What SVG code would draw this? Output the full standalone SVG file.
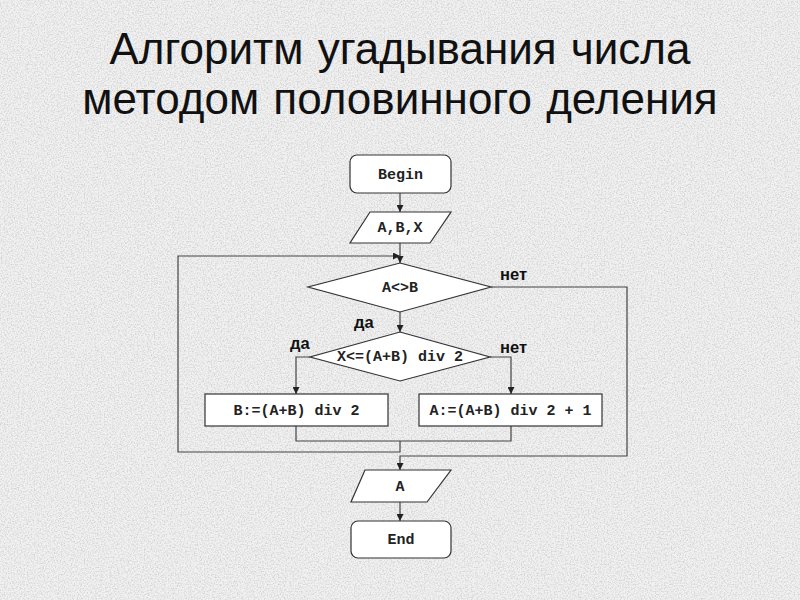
<svg xmlns="http://www.w3.org/2000/svg" width="800" height="600" viewBox="0 0 800 600">
<defs>
<filter id="noise" x="0" y="0" width="100%" height="100%">
<feTurbulence type="fractalNoise" baseFrequency="0.7" numOctaves="3" seed="5" result="t"/>
<feColorMatrix type="matrix" values="0 0 0 0 0.6  0 0 0 0 0.6  0 0 0 0 0.6  0 0 0 -3 1.75"/>
</filter>
<marker id="arr" viewBox="0 0 10 10" refX="10" refY="5" markerWidth="7" markerHeight="7" markerUnits="userSpaceOnUse" orient="auto">
<path d="M0,0 L10,5 L0,10 z" fill="#222"/>
</marker>
<style>
.shape{fill:#fff;stroke:#333;stroke-width:1.2}
.lbl{font-family:"Liberation Mono","Courier New",monospace;font-weight:bold;font-size:15px;fill:#222;text-anchor:middle}
.yn{font-family:"Liberation Sans",Arial,sans-serif;font-weight:bold;font-size:16.5px;fill:#111}
.title{font-family:"Liberation Sans",Arial,sans-serif;font-size:44px;fill:#111;text-anchor:middle;word-spacing:2px}
.c{fill:none;stroke:#444;stroke-width:1.2}
</style>
</defs>
<rect width="800" height="600" fill="#f1f1f1"/>
<rect width="800" height="600" filter="url(#noise)" opacity="0.7"/>
<text class="title" x="400" y="64">Алгоритм угадывания числа</text>
<text class="title" x="400" y="114">методом половинного деления</text>
<g id="connectors">
<path class="c" d="M400,193 V212" marker-end="url(#arr)"/>
<path class="c" d="M400,243 V263" marker-end="url(#arr)"/>
<path class="c" d="M400,312 V332" marker-end="url(#arr)"/>
<path class="c" d="M310,357 H296 V394" marker-end="url(#arr)"/>
<path class="c" d="M490,357 H511 V394" marker-end="url(#arr)"/>
<path class="c" d="M296,426 V441 H511 V426"/>
<path class="c" d="M400,441 V452 H178 V256 H400" marker-end="url(#arr)"/>
<path class="c" d="M491,287 H627 V456 H400 V470" marker-end="url(#arr)"/>
<path class="c" d="M400,502 V521" marker-end="url(#arr)"/>
<text class="yn" x="500" y="280">нет</text>
<text class="yn" x="354" y="328">да</text>
<text class="yn" x="290" y="349">да</text>
<text class="yn" x="500" y="353">нет</text>
</g>
<g id="begin">
<rect class="shape" x="350" y="155" width="101" height="38" rx="7"/>
<text class="lbl" x="400.5" y="179">Begin</text>
</g>
<g id="input">
<polygon class="shape" points="370,212 451,212 430,243 350,243"/>
<text class="lbl" x="400" y="232">A,B,X</text>
</g>
<g id="cond1">
<polygon class="shape" points="400,263 491,287 400,312 308,287"/>
<text class="lbl" x="400" y="292">A&lt;&gt;B</text>
</g>
<g id="cond2">
<polygon class="shape" points="400,332 490,357 400,381 310,357"/>
<text class="lbl" x="400" y="361">X&lt;=(A+B) div 2</text>
</g>
<g id="setB">
<rect class="shape" x="205" y="394" width="183" height="32"/>
<text class="lbl" x="296.5" y="415">B:=(A+B) div 2</text>
</g>
<g id="setA">
<rect class="shape" x="419" y="394" width="183" height="32"/>
<text class="lbl" x="510.5" y="415">A:=(A+B) div 2 + 1</text>
</g>
<g id="output">
<polygon class="shape" points="365,470 451,470 427,502 351,502"/>
<text class="lbl" x="400" y="491">A</text>
</g>
<g id="end">
<rect class="shape" x="351" y="521" width="100" height="37" rx="7"/>
<text class="lbl" x="401" y="544">End</text>
</g>
</svg>
